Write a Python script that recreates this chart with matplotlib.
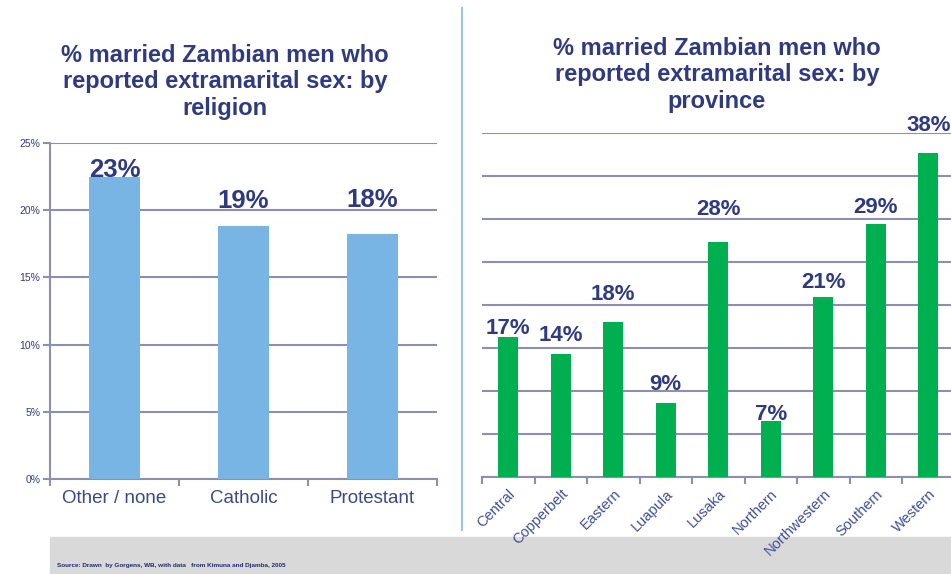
import matplotlib.pyplot as plt
from matplotlib.patches import Rectangle

plt.rcParams['font.family'] = ['Liberation Sans', 'DejaVu Sans']

# data
religions = ['Other / none', 'Catholic', 'Protestant']
religion_pct = [22.5, 18.8, 18.2]
religion_labels = ['23%', '19%', '18%']

provinces = ['Central', 'Copperbelt', 'Eastern', 'Luapula', 'Lusaka',
             'Northern', 'Northwestern', 'Southern', 'Western']
province_pct = [16.3, 14.3, 18.0, 8.6, 27.3, 6.5, 20.9, 29.4, 37.7]
province_labels = ['17%', '14%', '18%', '9%', '28%', '7%', '21%', '29%', '38%']

# vertical nudges of the value labels (pixels above bar top), as in the original
religion_nudge = [0, 18, 27]
province_nudge = [3, 13, 22, 13, 27, 1, 9, 11, 22]

W, H = 951, 574
navy = '#2f3b7e'
grid_col = '#8c8fb0'
tick_col = '#3f4f96'

fig = plt.figure(figsize=(W / 100, H / 100), dpi=100)


def px_axes(x0, y0, x1, y1):
    return fig.add_axes([x0 / W, 1 - y1 / H, (x1 - x0) / W, (y1 - y0) / H])


# ---- left: by religion ----
ax1 = px_axes(50, 143, 437, 479)
x1 = range(len(religions))
ax1.bar(x1, religion_pct, width=0.4, color='#78b4e4', zorder=3)
ax1.set_xlim(-0.5, len(religions) - 0.5)
ax1.set_ylim(0, 25)
ax1.set_yticks(range(0, 26, 5))
ax1.set_yticklabels([f'{v}%' for v in range(0, 26, 5)], fontsize=7.5, color=navy)
ax1.set_xticks(list(x1))
ax1.set_xticklabels(religions, fontsize=13.5, color='#3b4a86')
ax1.set_xticks([i - 0.5 for i in range(len(religions) + 1)], minor=True)
ax1.tick_params(axis='x', which='major', length=0, pad=8)
ax1.tick_params(axis='x', which='minor', length=5, color=grid_col, width=1.5)
ax1.tick_params(axis='y', length=5, color=grid_col, width=1.5, pad=2)
ax1.grid(axis='y', color=grid_col, linewidth=1.5, zorder=0)
for s in ['top', 'right']:
    ax1.spines[s].set_visible(False)
for s in ['left', 'bottom']:
    ax1.spines[s].set_color(grid_col)
    ax1.spines[s].set_linewidth(1.5)
for i, (v, lab) in enumerate(zip(religion_pct, religion_labels)):
    ax1.annotate(lab, (i, v), xytext=(0, religion_nudge[i] * 0.72),
                 textcoords='offset points', ha='center', va='baseline',
                 fontsize=18.5, fontweight='bold', color=navy, zorder=4)

fig.text(225 / W, 1 - 82 / H,
         '% married Zambian men who\nreported extramarital sex: by\nreligion',
         ha='center', va='center', fontsize=17, fontweight='bold',
         color=navy, linespacing=1.18)

# ---- right: by province ----
ax2 = px_axes(482, 133, 482 + 52.5 * len(provinces), 477)
x2 = range(len(provinces))
ax2.bar(x2, province_pct, width=0.39, color='#00b050', zorder=3)
ax2.set_xlim(-0.5, len(provinces) - 0.5)
ax2.set_ylim(0, 40)
ax2.set_yticks(range(0, 41, 5))
ax2.set_yticklabels([])
ax2.tick_params(axis='y', length=0)
ax2.set_xticks(list(x2))
ax2.set_xticklabels(provinces, fontsize=10.5, color=tick_col, rotation=45,
                    ha='right', va='top', rotation_mode='anchor')
ax2.set_xticks([i - 0.5 for i in range(len(provinces) + 1)], minor=True)
ax2.tick_params(axis='x', which='major', length=0, pad=7)
ax2.tick_params(axis='x', which='minor', length=5, color=grid_col, width=1.5)
ax2.grid(axis='y', color=grid_col, linewidth=1.5, zorder=0)
for s in ['top', 'right', 'left']:
    ax2.spines[s].set_visible(False)
ax2.spines['bottom'].set_color(grid_col)
ax2.spines['bottom'].set_linewidth(1.5)
for i, (v, lab) in enumerate(zip(province_pct, province_labels)):
    ax2.annotate(lab, (i, v), xytext=(0, province_nudge[i] * 0.72),
                 textcoords='offset points', ha='center', va='baseline',
                 fontsize=16, fontweight='bold', color=navy, zorder=4,
                 annotation_clip=False)

fig.text(717 / W, 1 - 75 / H,
         '% married Zambian men who\nreported extramarital sex: by\nprovince',
         ha='center', va='center', fontsize=17, fontweight='bold',
         color=navy, linespacing=1.18)

# divider line between the panels
fig.add_artist(plt.Line2D([462 / W, 462 / W], [1 - 530 / H, 1 - 8 / H],
                          color='#9cc3e6', linewidth=1.5))

# grey source strip
fig.add_artist(Rectangle((50 / W, 0), 1 - 50 / W, 37 / H,
                         transform=fig.transFigure, color='#d9d9d9', zorder=-1))
fig.text(57 / W, 1 - 565 / H,
         'Source: Drawn  by Gorgens, WB, with data   from Kimuna and Djamba, 2005',
         ha='left', va='center', fontsize=4.6, fontweight='bold', color='#1f2a6e')

fig.savefig('out.png', dpi=100)
